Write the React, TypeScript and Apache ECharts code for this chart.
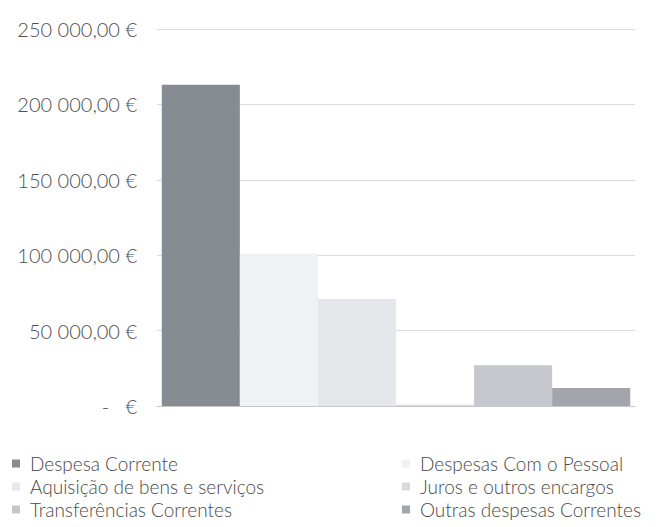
import React, { useEffect, useRef } from "react";
import * as echarts from "echarts";

const categories = [""];
const seriesNames = [
  "Despesa Corrente",
  "Despesas Com o Pessoal",
  "Aquisição de bens e serviços",
  "Juros e outros encargos",
  "Transferências Correntes",
  "Outras despesas Correntes",
];
const seriesValues = [213000, 101000, 71000, 800, 27000, 12000];
const seriesColors = ["#878c92", "#eff1f4", "#e5e7ea", "#d8dadd", "#c5c8cc", "#a2a6ab"];
const leftLegend = [seriesNames[0], seriesNames[2], seriesNames[4]];
const rightLegend = [seriesNames[1], seriesNames[3], seriesNames[5]];

function fmt(v: number): string {
  if (v === 0) return "-\u00a0\u00a0\u00a0€";
  const s = Math.round(v)
    .toString()
    .replace(/\B(?=(\d{3})+(?!\d))/g, " ");
  return s + ",00\u00a0€";
}

export default function App() {
  const ref = useRef<HTMLDivElement>(null);
  useEffect(() => {
    if (!ref.current) return;
    const chart = echarts.init(ref.current, null, { renderer: "svg" });
    const font = "Lato, Calibri, 'Noto Sans', sans-serif";
    const legendText = {
      fontSize: 19,
      color: "#4a4a4a",
      fontFamily: font,
      fontWeight: 300,
      lineHeight: 23,
      padding: [0, 0, 0, 5],
    };
    const legendBase = {
      orient: "vertical",
      top: 452,
      padding: 0,
      itemWidth: 8,
      itemHeight: 8,
      itemGap: 0,
      icon: "rect",
      textStyle: legendText,
    };
    chart.setOption({
      animation: false,
      backgroundColor: "#ffffff",
      grid: { left: 157, right: 35, top: 29, bottom: 121, containLabel: false },
      xAxis: {
        type: "category",
        data: categories,
        axisLabel: { show: false },
        axisTick: { show: false },
        axisLine: { lineStyle: { color: "#c8c8c8", width: 1 } },
      },
      yAxis: {
        type: "value",
        min: 0,
        max: 250000,
        interval: 50000,
        axisLine: { show: false },
        axisTick: { show: false },
        splitLine: { lineStyle: { color: "#dcdcdc", width: 1 } },
        axisLabel: {
          formatter: (v: number) => fmt(v),
          fontSize: 20,
          fontWeight: 300,
          color: "#4f4f4f",
          fontFamily: font,
          margin: 20,
        },
      },
      legend: [
        { ...legendBase, data: leftLegend, left: 12 },
        { ...legendBase, data: rightLegend, left: 402 },
      ],
      series: seriesNames.map((name, i) => ({
        name,
        type: "bar",
        data: [seriesValues[i]],
        barGap: "0%",
        barCategoryGap: "2%",
        itemStyle: { color: seriesColors[i] },
      })),
    });
    return () => chart.dispose();
  }, []);
  return <div ref={ref} style={{ width: 670, height: 527, position: "absolute", left: 0, top: 0 }} />;
}
